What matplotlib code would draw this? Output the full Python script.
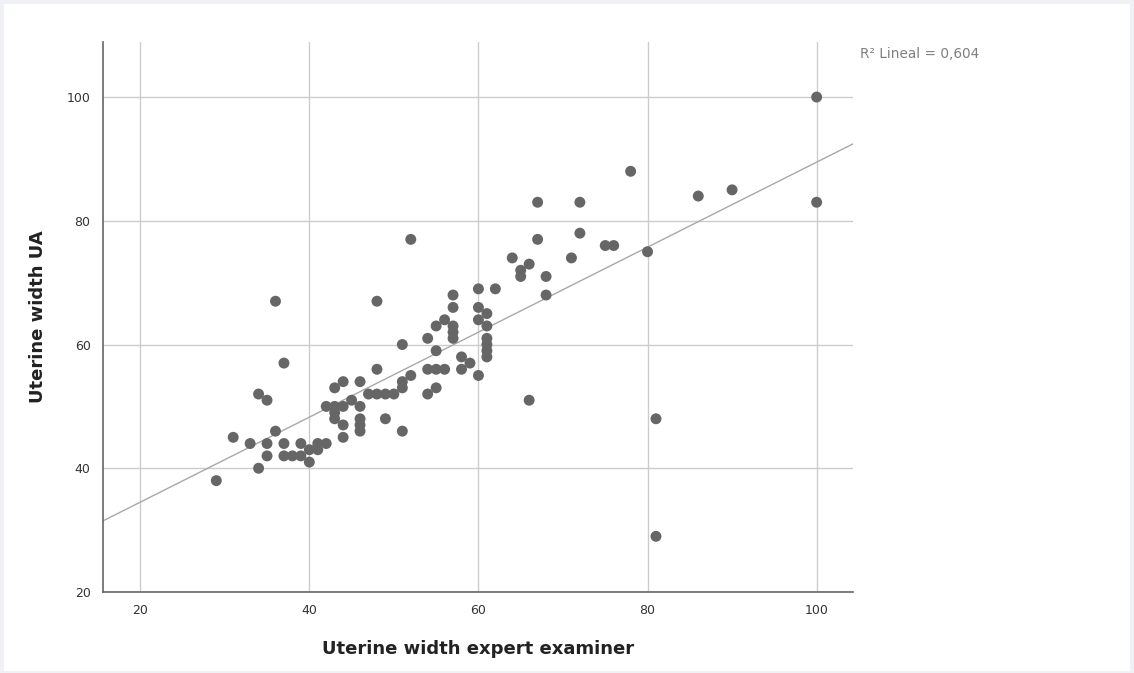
import numpy as np
import matplotlib
matplotlib.use("Agg")
import matplotlib.pyplot as plt
from matplotlib.patches import Rectangle

# Data
expert_width = [29, 31, 33, 34, 35, 34, 35, 35, 36, 36, 37, 37, 37, 38, 39, 39, 40, 40,
                41, 41, 42, 42, 43, 43, 43, 43, 44, 44, 44, 44, 45, 46, 46, 46, 46, 46,
                47, 48, 48, 48, 49, 49, 50, 51, 51, 51, 51, 52, 52, 54, 54, 54, 55, 55,
                55, 55, 56, 56, 57, 57, 57, 57, 57, 58, 58, 59, 60, 60, 60, 60, 61, 61,
                61, 61, 61, 61, 62, 64, 65, 65, 66, 66, 67, 67, 68, 68, 71, 72, 72, 75,
                76, 78, 80, 81, 81, 86, 90, 100, 100]
ua_width = [38, 45, 44, 52, 51, 40, 44, 42, 67, 46, 57, 44, 42, 42, 44, 42, 43, 41,
            44, 43, 44, 50, 53, 50, 49, 48, 54, 50, 47, 45, 51, 54, 50, 48, 47, 46,
            52, 67, 56, 52, 52, 48, 52, 60, 54, 53, 46, 77, 55, 61, 56, 52, 63, 59,
            56, 53, 64, 56, 68, 66, 63, 62, 61, 58, 56, 57, 69, 66, 64, 55, 65, 63,
            61, 60, 59, 58, 69, 74, 72, 71, 73, 51, 83, 77, 71, 68, 74, 83, 78, 76,
            76, 88, 75, 48, 29, 84, 85, 100, 83]

x_ticks = [20, 40, 60, 80, 100]
y_ticks = [20, 40, 60, 80, 100]
r2_label = "R² Lineal = 0,604"
x_label = "Uterine width expert examiner"
y_label = "Uterine width UA"

fig = plt.figure(figsize=(11.34, 6.73), dpi=100)
fig.patch.set_facecolor("#eff1f4")
fig.patches.append(Rectangle((4 / 1134, 2 / 673), 1126 / 1134, 667 / 673,
                             transform=fig.transFigure, facecolor="white",
                             edgecolor="none", zorder=-10))

ax = fig.add_axes([103 / 1134, 1 - 592 / 673, 750 / 1134, 550 / 673])
ax.set_zorder(1)
ax.set_facecolor("white")
ax.set_xlim(15.6, 104.3)
ax.set_ylim(20, 108.9)

ax.set_xticks(x_ticks)
ax.set_yticks(y_ticks)
ax.grid(True, color="#cccccc", linewidth=1.0)
ax.set_axisbelow(True)
for s in ["top", "right"]:
    ax.spines[s].set_visible(False)
for s in ["left", "bottom"]:
    ax.spines[s].set_color("#666666")
    ax.spines[s].set_linewidth(1.2)
ax.tick_params(length=0, labelsize=9, labelcolor="#333333", pad=9)

xs = np.array(expert_width, dtype=float)
ys = np.array(ua_width, dtype=float)
slope, intercept = np.polyfit(xs, ys, 1)
xl = np.array(ax.get_xlim())
ax.plot(xl, intercept + slope * xl, color="#a8a8a8", linewidth=1.0, zorder=2,
        clip_on=True)

ax.scatter(xs, ys, s=62, color="#666666", edgecolors="none", zorder=3)

ax.set_xlabel(x_label, fontsize=13, fontweight="bold", color="#222222", labelpad=16)
ax.set_ylabel(y_label, fontsize=13, fontweight="bold", color="#222222", labelpad=14)

fig.text(860 / 1134, 1 - 54 / 673, r2_label, fontsize=9.8, color="#808080",
         va="center", ha="left")

fig.savefig("out.png", dpi=100, facecolor=fig.get_facecolor())
